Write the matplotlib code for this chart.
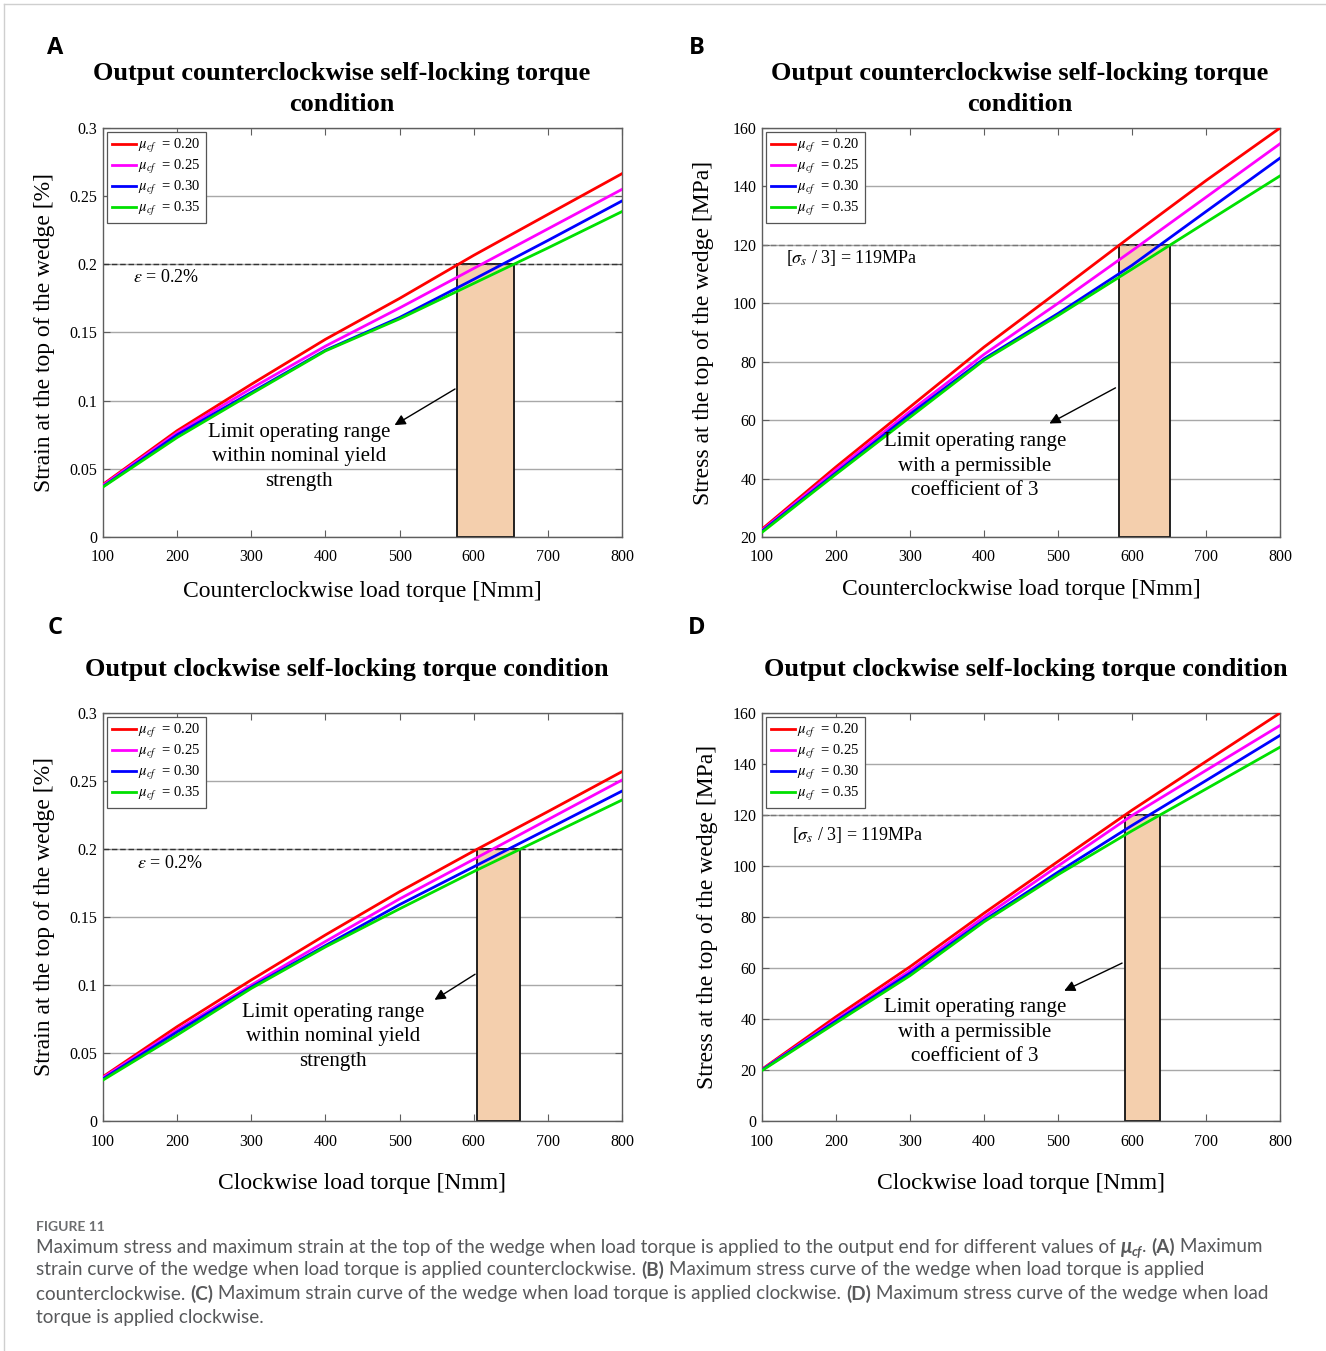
import matplotlib
matplotlib.use("Agg")
import matplotlib.pyplot as plt
from matplotlib.patches import Rectangle
import numpy as np

# ---------------- data ----------------
torque = [100, 200, 300, 400, 500, 600, 700, 800]
mu_labels = ["0.20", "0.25", "0.30", "0.35"]

# Panel A: counterclockwise strain [%]
strainA_020 = [0.0386, 0.078, 0.112, 0.145, 0.175, 0.2066, 0.2366, 0.2665]
strainA_025 = [0.038, 0.0765, 0.109, 0.140, 0.168, 0.197, 0.226, 0.255]
strainA_030 = [0.037, 0.075, 0.106, 0.137, 0.161, 0.189, 0.2175, 0.2465]
strainA_035 = [0.0367, 0.073, 0.105, 0.1365, 0.160, 0.186, 0.212, 0.2387]

# Panel B: counterclockwise stress [MPa]
stressB_020 = [22.7, 44.0, 64.5, 85.0, 104.0, 123.2, 142.0, 160.0]
stressB_025 = [22.3, 43.0, 63.0, 82.5, 100.0, 118.0, 136.3, 154.6]
stressB_030 = [22.0, 42.0, 62.0, 81.0, 96.5, 113.0, 131.4, 149.7]
stressB_035 = [21.6, 41.5, 61.0, 80.5, 95.8, 111.7, 127.7, 143.6]

# Panel C: clockwise strain [%]
strainC_020 = [0.0326, 0.0694, 0.1037, 0.1368, 0.1686, 0.1985, 0.2275, 0.2569]
strainC_025 = [0.032, 0.067, 0.100, 0.132, 0.1633, 0.1924, 0.2216, 0.2507]
strainC_030 = [0.031, 0.0655, 0.0985, 0.129, 0.1591, 0.1869, 0.2147, 0.2426]
strainC_035 = [0.0301, 0.0632, 0.0975, 0.128, 0.156, 0.1834, 0.2097, 0.236]

# Panel D: clockwise stress [MPa]
stressD_020 = [20.3, 40.9, 60.5, 81.5, 101.8, 121.9, 141.0, 160.0]
stressD_025 = [20.1, 39.8, 59.0, 80.0, 100.0, 119.8, 137.5, 155.1]
stressD_030 = [20.0, 39.2, 58.0, 78.7, 97.6, 115.9, 133.5, 151.2]
stressD_035 = [19.8, 38.5, 57.0, 78.1, 96.6, 113.8, 130.2, 146.6]

# limits and operating ranges
strain_limit = 0.2
stress_limit = 120
rangeA = [578, 655]
rangeB = [583, 652]
rangeC = [605, 663]
rangeD = [590, 638]

# ---------------- style ----------------
plt.rcParams['font.family'] = ['Liberation Serif', 'DejaVu Serif']
plt.rcParams['mathtext.fontset'] = 'stix'

colors = ['#ff0000', '#ff00ff', '#0000ff', '#00e000']
W, H = 1326, 1351
fig = plt.figure(figsize=(W / 100, H / 100), dpi=100)


def px_axes(l, t, r, b):
    return fig.add_axes([l / W, 1 - b / H, (r - l) / W, (b - t) / H])


panels = [
    dict(rect=(103, 128, 622, 537), series=[strainA_020, strainA_025, strainA_030, strainA_035],
         ylim=(0, 0.3), yticks=[0, 0.05, 0.1, 0.15, 0.2, 0.25, 0.3],
         ytl=['0', '0.05', '0.1', '0.15', '0.2', '0.25', '0.3'], limit=strain_limit, rng=rangeA,
         limtxt=r'$\varepsilon$ = 0.2%', limtxt_pos=(133, 277), ls_col='#333333',
         note="Limit operating range\nwithin nominal yield\nstrength", note_c=(299, 457),
         arr_from=(578, 0.1096), arr_to=(490, 0.081),
         title="Output counterclockwise self-locking torque\ncondition", title_xy=(342, 89),
         ylabel="Strain at the top of the wedge [%]", ylab_x=45,
         xlabel="Counterclockwise load torque [Nmm]", xlab_y=592, letter='A', letter_xy=(55, 48)),
    dict(rect=(762, 128, 1280, 537), series=[stressB_020, stressB_025, stressB_030, stressB_035],
         ylim=(20, 160), yticks=[20, 40, 60, 80, 100, 120, 140, 160],
         ytl=['20', '40', '60', '80', '100', '120', '140', '160'], limit=stress_limit, rng=rangeB,
         limtxt=r'[$\sigma_s$ / 3] = 119MPa', limtxt_pos=(786, 258), ls_col='#777777',
         note="Limit operating range\nwith a permissible\ncoefficient of 3", note_c=(975, 466),
         arr_from=(581, 71.5), arr_to=(485, 58.4),
         title="Output counterclockwise self-locking torque\ncondition", title_xy=(1020, 89),
         ylabel="Stress at the top of the wedge [MPa]", ylab_x=704,
         xlabel="Counterclockwise load torque [Nmm]", xlab_y=589, letter='B', letter_xy=(697, 48)),
    dict(rect=(103, 713, 622, 1121), series=[strainC_020, strainC_025, strainC_030, strainC_035],
         ylim=(0, 0.3), yticks=[0, 0.05, 0.1, 0.15, 0.2, 0.25, 0.3],
         ytl=['0', '0.05', '0.1', '0.15', '0.2', '0.25', '0.3'], limit=strain_limit, rng=rangeC,
         limtxt=r'$\varepsilon$ = 0.2%', limtxt_pos=(137, 863), ls_col='#333333',
         note="Limit operating range\nwithin nominal yield\nstrength", note_c=(333, 1037),
         arr_from=(605, 0.109), arr_to=(544, 0.088),
         title="Output clockwise self-locking torque condition", title_xy=(347, 669),
         ylabel="Strain at the top of the wedge [%]", ylab_x=45,
         xlabel="Clockwise load torque [Nmm]", xlab_y=1183, letter='C', letter_xy=(55, 628)),
    dict(rect=(762, 713, 1280, 1121), series=[stressD_020, stressD_025, stressD_030, stressD_035],
         ylim=(0, 160), yticks=[0, 20, 40, 60, 80, 100, 120, 140, 160],
         ytl=['0', '20', '40', '60', '80', '100', '120', '140', '160'], limit=stress_limit, rng=rangeD,
         limtxt=r'[$\sigma_s$ / 3] = 119MPa', limtxt_pos=(792, 835), ls_col='#777777',
         note="Limit operating range\nwith a permissible\ncoefficient of 3", note_c=(975, 1032),
         arr_from=(590, 62.4), arr_to=(505, 50.6),
         title="Output clockwise self-locking torque condition", title_xy=(1026, 669),
         ylabel="Stress at the top of the wedge [MPa]", ylab_x=708,
         xlabel="Clockwise load torque [Nmm]", xlab_y=1183, letter='D', letter_xy=(697, 628)),
]

frame_col = '#5e5e5e'
for p in panels:
    l, t, r, b = p['rect']
    ax = px_axes(l, t, r, b)
    ax.set_xlim(100, 800)
    ax.set_ylim(*p['ylim'])
    ax.set_xticks(torque)
    ax.set_xticklabels([str(v) for v in torque])
    ax.set_yticks(p['yticks'])
    ax.set_yticklabels(p['ytl'])
    ax.tick_params(direction='in', top=True, right=True, labelsize=11.5, length=5,
                   color=frame_col)
    ax.tick_params(axis='x', pad=9)
    ax.tick_params(axis='y', pad=4)
    for s in ax.spines.values():
        s.set_color(frame_col)
        s.set_linewidth(1.0)
    ax.yaxis.grid(True, color='#a8a8a8', linewidth=1.0)
    ax.set_axisbelow(True)

    # operating range box
    x0, x1 = p['rng']
    y0 = p['ylim'][0]
    ax.add_patch(Rectangle((x0, y0), x1 - x0, p['limit'] - y0, facecolor='#f4cfad',
                           edgecolor='#111111', linewidth=1.3, zorder=1))
    ax.axhline(p['limit'], color=p['ls_col'], linestyle=(0, (4, 2)), linewidth=1.0, zorder=1.5)

    for ser, c, m in zip(p['series'], colors, mu_labels):
        ax.plot(torque, ser, color=c, linewidth=2.0, zorder=3,
                label=r'$\mu_{cf}$  = ' + m)
    leg = ax.legend(loc='upper left', fontsize=10.5, frameon=True, fancybox=False,
                    edgecolor='#555555', framealpha=1, handlelength=1.6, handletextpad=0.15,
                    labelspacing=0.2, borderpad=0.35, borderaxespad=0.3)
    leg.get_frame().set_linewidth(0.9)

    # limit label
    fig.text(p['limtxt_pos'][0] / W, 1 - p['limtxt_pos'][1] / H, p['limtxt'],
             fontsize=13, ha='left', va='center')

    # annotation
    ax.annotate('', xy=p['arr_to'], xytext=p['arr_from'],
                arrowprops=dict(arrowstyle='-|>', color='black', lw=1.0, mutation_scale=16),
                zorder=4)
    fig.text(p['note_c'][0] / W, 1 - p['note_c'][1] / H, p['note'], fontsize=15,
             ha='center', va='center', linespacing=1.42)

    # titles and labels
    fig.text(p['title_xy'][0] / W, 1 - p['title_xy'][1] / H, p['title'], fontsize=19,
             fontweight='bold', ha='center', va='center', linespacing=1.45)
    fig.text(p['ylab_x'] / W, 1 - ((t + b) / 2) / H, p['ylabel'], fontsize=17,
             rotation=90, ha='center', va='center')
    fig.text(((l + r) / 2) / W, 1 - p['xlab_y'] / H, p['xlabel'], fontsize=17,
             ha='center', va='center')
    fig.text(p['letter_xy'][0] / W, 1 - p['letter_xy'][1] / H, p['letter'], fontsize=17,
             fontweight='bold', ha='center', va='center', family=['Open Sans', 'DejaVu Sans'])

# ---------------- caption ----------------
cap_col = '#58595b'
cap_font = ['Lato', 'DejaVu Sans']
fig.text(36 / W, 1 - 1227 / H, 'FIGURE 11', fontsize=10, fontweight='bold', color='#6d6e70',
         ha='left', va='center', family=cap_font)

cap_lines = [
    [("Maximum stress and maximum strain at the top of the wedge when load torque is applied to the output end for different values of ", 'normal'),
     ("\u03bc", 'mu'), ("cf", 'sub'), (". ", 'normal'), ("(A)", 'bold'), (" Maximum", 'normal')],
    [("strain curve of the wedge when load torque is applied counterclockwise. ", 'normal'), ("(B)", 'bold'),
     (" Maximum stress curve of the wedge when load torque is applied", 'normal')],
    [("counterclockwise. ", 'normal'), ("(C)", 'bold'),
     (" Maximum strain curve of the wedge when load torque is applied clockwise. ", 'normal'), ("(D)", 'bold'),
     (" Maximum stress curve of the wedge when load", 'normal')],
    [("torque is applied clockwise.", 'normal')],
]
cap_y = [1247, 1270, 1294, 1317]
cap_size = 13.6

fig.canvas.draw()
renderer = fig.canvas.get_renderer()
for segs, yy in zip(cap_lines, cap_y):
    xpix = 36.0
    for txt, kind in segs:
        kw = dict(fontsize=cap_size, color=cap_col, ha='left', va='center', family=cap_font)
        y_here = yy
        if kind == 'bold':
            kw['fontweight'] = 'bold'
        if kind == 'mu':
            kw.update(fontweight='bold', fontstyle='italic', fontsize=cap_size + 1)
        if kind == 'sub':
            kw.update(fontweight='bold', fontstyle='italic', fontsize=cap_size * 0.7)
            y_here = yy + 5
        tt = fig.text(xpix / W, 1 - y_here / H, txt, **kw)
        bb = tt.get_window_extent(renderer=renderer)
        xpix += bb.width

# page border lines
fig.add_artist(plt.Line2D([4 / W, 4 / W], [0, 1 - 4 / H], color='#cfcfcf', lw=1))
fig.add_artist(plt.Line2D([4 / W, 1], [1 - 4 / H, 1 - 4 / H], color='#cfcfcf', lw=1))

fig.savefig('out.png', dpi=100, facecolor='white')
